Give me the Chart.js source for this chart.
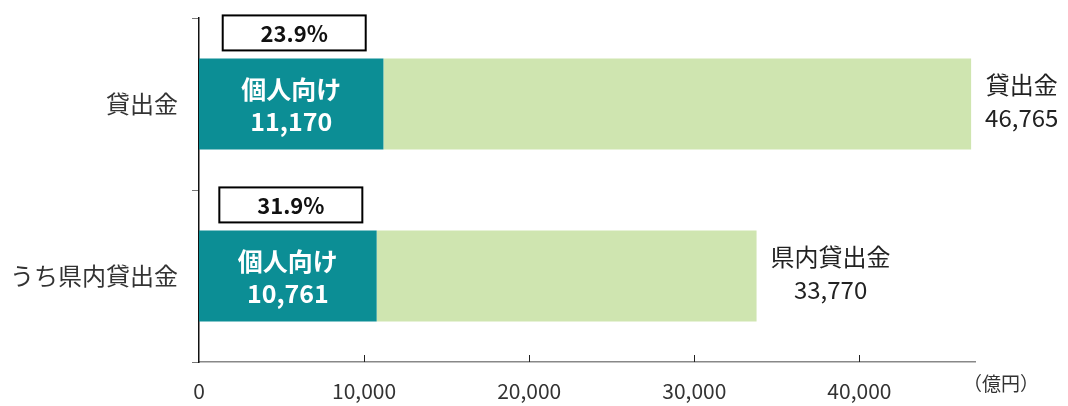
<!DOCTYPE html>
<html>
<head>
<meta charset="utf-8">
<script src="https://cdn.jsdelivr.net/npm/chart.js@4"></script>
<style>
  html, body { margin: 0; padding: 0; background: #fff; }
  #wrap { width: 1068px; height: 406px; position: relative; }
</style>
</head>
<body>
<div id="wrap"><canvas id="loanChart"></canvas></div>
<script>
// 貸出金のうち個人向けの内訳（億円）
const categories = ['貸出金', 'うち県内貸出金'];
const personalValues = [11170, 10761];
const otherValues = [35595, 23009];
const totalValues = [46765, 33770];
const totalNames = ['貸出金', '県内貸出金'];
const shareLabels = ['23.9%', '31.9%'];
const xTicks = [0, 10000, 20000, 30000, 40000];

const FONT = '"Noto Sans CJK JP", "Noto Sans", sans-serif';
const TEAL = '#0c8e95';
const GREEN = '#cfe5b0';

const fmt = v => v.toLocaleString('en-US');

const labelPlugin = {
    id: 'loanLabels',
    afterDatasetsDraw(chart) {
        const ctx = chart.ctx;
        const area = chart.chartArea;
        const xScale = chart.scales.x;
        const personalBars = chart.getDatasetMeta(0).data;
        const otherBars = chart.getDatasetMeta(1).data;

        ctx.save();

        // inward tick marks on the x axis
        ctx.strokeStyle = '#222';
        ctx.lineWidth = 1;
        xTicks.forEach(v => {
            if (v === 0) return;
            const px = Math.round(xScale.getPixelForValue(v)) + 0.5;
            ctx.beginPath();
            ctx.moveTo(px, area.bottom);
            ctx.lineTo(px, area.bottom - 7);
            ctx.stroke();
        });

        personalBars.forEach((bar, i) => {
            const cx = (bar.x + bar.base) / 2;
            const top = bar.y - bar.height / 2;

            // text inside the teal segment
            ctx.fillStyle = '#fff';
            ctx.textAlign = 'center';
            ctx.textBaseline = 'middle';
            ctx.font = 'bold 25px ' + FONT;
            ctx.fillText('個人向け', cx, bar.y - 15);
            ctx.fillText(fmt(personalValues[i]), cx, bar.y + 17);

            // boxed share above the bar
            const bw = 143, bh = 35;
            const bx = cx + 3 - bw / 2;
            const by = top - 8 - bh;
            ctx.fillStyle = '#fff';
            ctx.fillRect(bx, by, bw, bh);
            ctx.strokeStyle = '#000';
            ctx.lineWidth = 2;
            ctx.strokeRect(bx, by, bw, bh);
            ctx.fillStyle = '#111';
            ctx.font = 'bold 22px ' + FONT;
            ctx.fillText(shareLabels[i], cx + 3, by + bh / 2 + 1);

            // total at the end of the bar
            const end = otherBars[i].x;
            ctx.font = '24px ' + FONT;
            const lines = [totalNames[i], fmt(totalValues[i])];
            const w = Math.max(...lines.map(l => ctx.measureText(l).width));
            const tx = end + 14 + w / 2;
            ctx.fillStyle = '#222';
            ctx.fillText(lines[0], tx, bar.y - 19);
            ctx.fillText(lines[1], tx, bar.y + 14);
        });

        // unit label
        ctx.font = '19px ' + FONT;
        ctx.fillStyle = '#333';
        ctx.textAlign = 'left';
        ctx.fillText('（億円）', area.right - 12, area.bottom + 22);

        ctx.restore();
    }
};

new Chart(document.getElementById('loanChart'), {
    type: 'bar',
    plugins: [labelPlugin],
    data: {
        labels: categories,
        datasets: [{
            label: '個人向け',
            data: personalValues,
            backgroundColor: TEAL,
            borderWidth: 0
        }, {
            label: 'その他',
            data: otherValues,
            backgroundColor: GREEN,
            borderWidth: 0
        }]
    },
    options: {
        indexAxis: 'y',
        responsive: true,
        maintainAspectRatio: false,
        animation: false,
        layout: {
            padding: { top: 18, right: 93, left: 0, bottom: 0 }
        },
        datasets: {
            bar: {
                categoryPercentage: 1,
                barPercentage: 0.53
            }
        },
        plugins: {
            legend: { display: false },
            title: { display: false },
            tooltip: { enabled: false }
        },
        scales: {
            x: {
                stacked: true,
                min: 0,
                max: 47000,
                afterBuildTicks: scale => {
                    scale.ticks = xTicks.map(v => ({ value: v }));
                },
                afterFit: scale => { scale.height = 44; },
                border: { display: true, color: '#888', width: 1.5 },
                grid: { display: false, drawTicks: false },
                ticks: {
                    color: '#333',
                    padding: 16,
                    font: { family: FONT, size: 21 },
                    callback: v => fmt(v)
                }
            },
            y: {
                stacked: true,
                afterFit: scale => {
                    scale.width = 199;
                    scale.paddingTop = 0;
                    scale.paddingBottom = 0;
                },
                border: { display: true, color: '#111', width: 1.5 },
                grid: {
                    display: true,
                    offset: true,
                    drawOnChartArea: false,
                    drawTicks: true,
                    tickLength: 7,
                    color: '#777'
                },
                ticks: {
                    color: '#333',
                    padding: 14,
                    font: { family: FONT, size: 24 }
                }
            }
        }
    }
});
</script>
</body>
</html>
